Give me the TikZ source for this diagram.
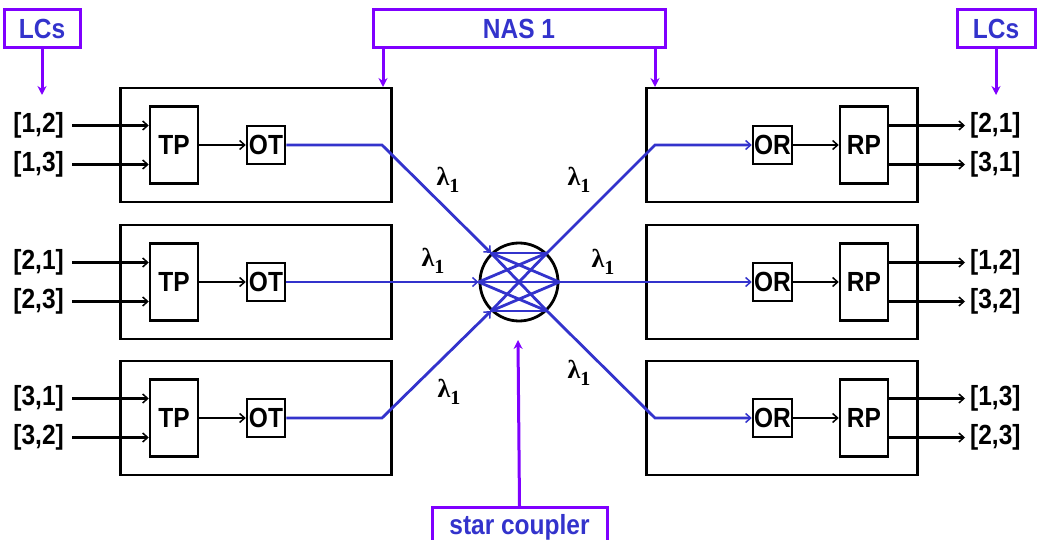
\documentclass[tikz,border=0pt]{standalone}
\usepackage{fontspec}
\setmainfont{Liberation Sans}
\newfontfamily\lamfont{Liberation Serif}
\usetikzlibrary{arrows.meta}
\definecolor{lineblue}{RGB}{51,51,204}
\definecolor{violetb}{RGB}{127,0,255}
\newcommand{\vst}[1]{\scalebox{1}[1.13]{#1}}
\begin{document}
\begin{tikzpicture}[x=1pt,y=-1pt,
  every node/.style={font=\fontsize{24.5}{28}\selectfont\bfseries},
  outerbox/.style={draw, line width=2.8pt, minimum width=271pt, minimum height=114pt, inner sep=0pt},
  tallbox/.style={draw, line width=2.5pt, minimum width=48pt, minimum height=77pt, inner sep=0pt},
  smallbox/.style={draw, line width=2.5pt, minimum width=38pt, minimum height=38pt, inner sep=0pt},
  blk/.style={line width=2.8pt, -{Straight Barb[length=5pt,width=9pt,line width=1.5pt]}},
  bl/.style={draw=lineblue, line width=2.8pt},
  blarr/.style={bl, -{Straight Barb[length=5pt,width=9pt,line width=1.5pt]}},
  pbox/.style={draw=violetb, line width=3pt, text=lineblue, inner sep=0pt, minimum height=38pt},
  parr/.style={draw=violetb, line width=3pt, -{Stealth[length=9pt,width=9pt]}},
  lam/.style={font=\lamfont\bfseries\fontsize{26}{28}\selectfont, inner sep=0pt}
]
\clip (0,0) rectangle (1037,540);
% coupler
\node[draw, circle, line width=2.8pt, minimum size=78pt, inner sep=0pt] (sc) at (519,282) {};
\foreach \r/\y/\a/\b/\c/\d in {1/145/{[1,2]}/{[1,3]}/{[2,1]}/{[3,1]},
                               2/282/{[2,1]}/{[2,3]}/{[1,2]}/{[3,2]},
                               3/418/{[3,1]}/{[3,2]}/{[1,3]}/{[2,3]}}{
  \node[outerbox] (L\r) at (256,\y) {};
  \node[outerbox] (R\r) at (782,\y) {};
  \node[tallbox] (TP\r) at (174,\y) {\vst{TP}};
  \node[smallbox] (OT\r) at (266,\y) {\vst{OT}};
  \node[smallbox, minimum width=39pt] (OR\r) at (772.5,\y) {\vst{OR}};
  \node[tallbox] (RP\r) at (864,\y) {\vst{RP}};
  \node[anchor=east, inner xsep=8pt, inner ysep=0pt] (ia\r) at (72,\y-19.5) {\vst{\a}};
  \node[anchor=east, inner xsep=8pt, inner ysep=0pt] (ib\r) at (72,\y+19.5) {\vst{\b}};
  \node[anchor=west, inner xsep=5pt, inner ysep=0pt] (oa\r) at (965,\y-19.5) {\vst{\c}};
  \node[anchor=west, inner xsep=5pt, inner ysep=0pt] (ob\r) at (965,\y+19.5) {\vst{\d}};
  \draw[blk] (ia\r.east) -- (TP\r.west |- ia\r.east);
  \draw[blk] (ib\r.east) -- (TP\r.west |- ib\r.east);
  \draw[blk] (TP\r) -- (OT\r);
  \draw[blk] (OR\r) -- (RP\r);
  \draw[blk] (RP\r.east |- oa\r.west) -- (oa\r.west);
  \draw[blk] (RP\r.east |- ob\r.west) -- (ob\r.west);
}
% blue fibres
\coordinate (a1) at (382,145);
\coordinate (a3) at (382,418);
\coordinate (b1) at (655,145);
\coordinate (b3) at (655,418);
\draw[blarr] (OT1.east) -- (a1) -- (sc.134);
\draw[blarr] (OT2.east) -- (sc.180);
\draw[blarr] (OT3.east) -- (a3) -- (sc.226);
\draw[blarr] (sc.46) -- (b1) -- (OR1.west);
\draw[blarr] (sc.0) -- (OR2.west);
\draw[blarr] (sc.-46) -- (b3) -- (OR3.west);
\foreach \p in {134,180,226}{
  \foreach \q in {46,0,-46}{
    \draw[bl] (sc.\p) -- (sc.\q);
  }
}
% lambda labels
\node[lam] (lm1) at (448,180) {λ\raisebox{-7pt}{\fontsize{20}{20}\selectfont 1}};
\node[lam] (lm2) at (433,261) {λ\raisebox{-7pt}{\fontsize{20}{20}\selectfont 1}};
\node[lam] (lm3) at (449,392) {λ\raisebox{-7pt}{\fontsize{20}{20}\selectfont 1}};
\node[lam] (lm4) at (579,180) {λ\raisebox{-7pt}{\fontsize{20}{20}\selectfont 1}};
\node[lam] (lm5) at (603,262) {λ\raisebox{-7pt}{\fontsize{20}{20}\selectfont 1}};
\node[lam] (lm6) at (579,373) {λ\raisebox{-7pt}{\fontsize{20}{20}\selectfont 1}};
% purple callouts
\node[pbox, minimum width=76pt] (lcl) at (42,29) {\vst{LCs}};
\node[pbox, minimum width=292pt] (nas) at (519,29) {\vst{NAS 1}};
\node[pbox, minimum width=78pt] (lcr) at (996,29) {\vst{LCs}};
\node[pbox, minimum width=175pt, minimum height=40pt, anchor=north] (scl) at (519.5,506) {\vst{star coupler}};
\coordinate (lclt) at (42,95);
\coordinate (lcrt) at (996,95);
\coordinate (n1) at (383,87);
\coordinate (n2) at (655,87);
\coordinate (sct) at (518,340);
\draw[parr] (lcl) -- (lclt);
\draw[parr] (lcr) -- (lcrt);
\draw[parr] (nas.south -| n1) -- (n1);
\draw[parr] (nas.south -| n2) -- (n2);
\draw[parr] (scl.north) -- (sct);
\end{tikzpicture}
\end{document}
